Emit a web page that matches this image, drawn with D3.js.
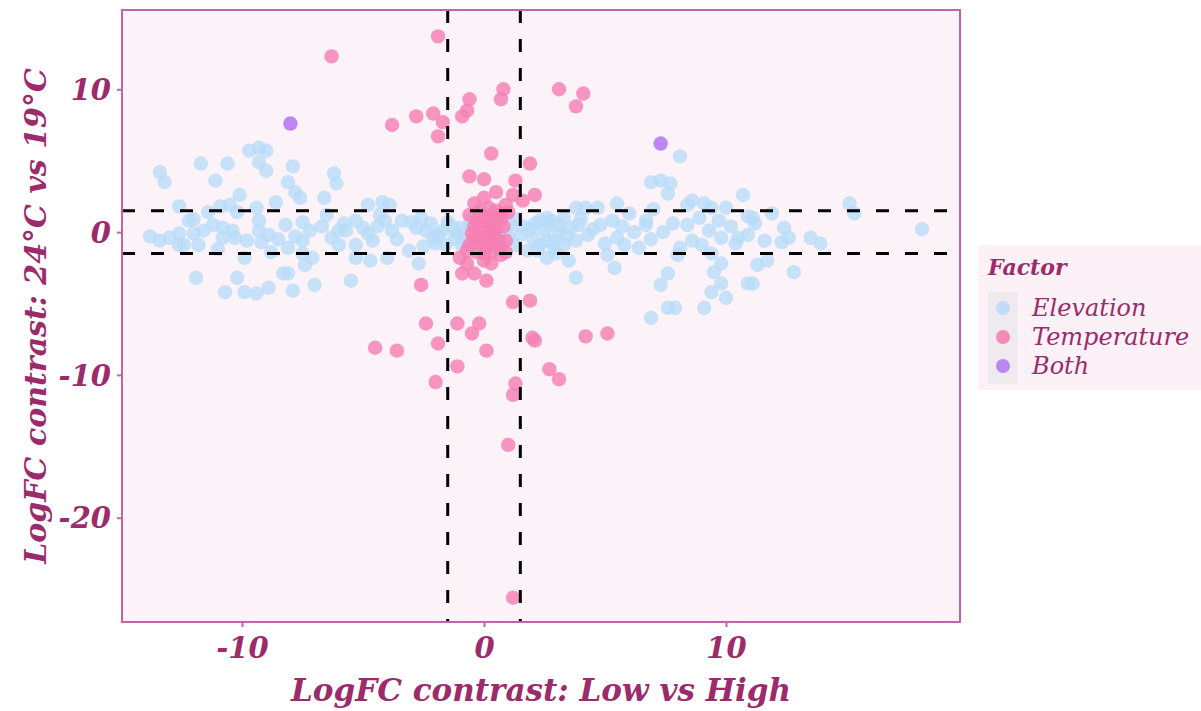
<!DOCTYPE html>
<html>
<head>
<meta charset="utf-8">
<script src="https://cdn.jsdelivr.net/npm/d3@7"></script>
<style>
  body { margin: 0; background: #ffffff; }
  svg text { font-family: "DejaVu Serif", serif; font-style: italic; fill: #9c2b6c; }
</style>
</head>
<body>
<svg id="chart" width="1201" height="711"></svg>
<script>
// Elevation (light blue) points: [logFC low vs high, logFC 24 vs 19]
const elevation = [
  [-9.7,5.7],[-9.3,5.9],[-9.0,5.7],[-13.4,4.2],[-13.2,3.5],[-11.7,4.8],[-10.6,4.8],[-9.3,4.9],[-9.0,4.3],
  [-11.1,3.6],[-7.9,4.6],[-8.1,3.5],[-7.8,2.8],[-7.6,2.4],[-6.2,4.1],[-6.1,3.4],[-10.1,2.6],[-6.6,2.4],
  [-12.6,1.8],[-12.2,0.8],[-10.9,1.8],[-10.5,1.9],[-10.2,1.4],[-8.6,2.1],[-9.4,1.7],[-9.3,0.8],[-11.4,1.4],
  [-13.0,-0.4],[-12.6,-0.1],[-12.0,-0.1],[-11.6,0.1],[-10.8,0.3],[-10.4,0.1],[-10.3,-0.4],[-10.8,-0.4],
  [-11.8,-0.9],[-12.4,-0.9],[-12.6,-0.9],[-9.3,0.1],[-8.9,-0.2],[-9.2,-0.7],[-8.8,-1.4],[-7.5,0.7],
  [-7.2,0.1],[-6.7,0.4],[-6.3,-0.4],[-7.5,-0.6],[-8.1,-1.1],[-7.5,-1.5],[-9.9,-1.8],[-7.1,-1.8],[-7.4,-2.3],
  [-11.9,-3.2],[-10.2,-3.2],[-8.3,-2.9],[-8.1,-2.9],[-10.7,-4.2],[-9.9,-4.2],[-9.4,-4.3],[-8.9,-3.9],
  [-7.9,-4.1],[-7.0,-3.7],[-13.8,-0.3],[-13.4,-0.6],
  [-4.8,1.9],[-4.2,2.1],[-3.9,1.9],[-6.0,0.1],[-5.7,0.1],[-5.3,0.8],[-5.0,0.3],[-4.8,-0.1],[-4.4,0.4],
  [-4.1,0.8],[-3.8,0.1],[-3.4,0.8],[-3.0,0.7],[-2.6,1.0],[-4.6,-0.6],[-5.3,-0.9],[-6.0,-0.9],[-5.3,-1.8],
  [-4.7,-2.0],[-4.0,-1.8],[-3.1,-1.3],[-2.7,-2.2],[-5.5,-3.4],[-2.1,-0.4],[-1.7,0.1],[-1.3,0.4],[-1.1,-0.1],
  [-2.0,-0.8],[1.0,-0.4],[1.6,0.4],[2.0,-0.4],[2.1,0.6],[-2.4,0.1],[-1.6,-0.9],[-0.9,0.3],[-0.8,-0.6],
  [1.1,0.5],[1.3,-0.9],[1.8,-1.3],[2.5,0.1],[2.9,-0.6],[3.1,0.5],[2.6,1.0],[3.3,-0.9],[2.3,-0.9],[-0.6,0.5],[0.9,0.1],
  [-2.8,0.3],[-2.2,0.6],[-1.9,-0.2],[-1.5,0.7],[-1.2,-0.5],[-0.9,-0.9],[-0.5,0.9],[-0.3,-0.3],[0.3,0.6],
  [0.6,-0.3],[1.3,0.9],[1.5,-0.2],[1.9,0.2],[2.2,-1.3],[2.8,0.8],[3.4,-0.3],[4.0,0.9],[4.5,0.2],[3.0,-1.5],
  [-3.6,-0.5],[-2.5,-1.0],[-4.3,1.2],[-5.8,0.6],[-6.5,1.2],[-8.2,0.5],[-8.5,-0.5],[-9.8,-0.6],[-11.2,0.5],
  [-12.0,0.9],[-11.0,-1.2],[-7.8,-0.3],
  [8.1,5.3],[6.9,3.5],[7.3,3.6],[7.7,3.4],[7.6,2.7],[10.7,2.6],[3.8,1.7],[4.2,1.7],[4.7,1.7],[5.5,2.0],
  [6.0,1.3],[6.7,0.8],[6.7,0.5],[8.4,1.9],[8.6,2.2],[9.1,2.0],[9.4,1.7],[10.0,1.7],[10.9,1.1],
  [2.3,0.8],[2.7,0.5],[3.1,0.0],[3.6,0.3],[3.8,-0.6],[2.6,-0.6],[3.3,1.0],[3.9,0.5],[2.9,-1.1],
  [4.8,0.5],[5.3,0.8],[5.7,0.4],[4.3,-0.2],[5.5,-0.4],[5.8,-0.9],[6.4,-1.1],[5.1,-1.6],[7.4,0.0],
  [8.1,-1.1],[8.0,-1.6],[8.4,0.5],[8.6,-0.6],[9.0,-0.9],[9.3,0.1],[9.8,-0.4],[10.2,0.4],[10.4,-0.8],
  [10.5,-0.4],[9.4,-1.5],[9.8,-2.2],[9.5,-2.8],[3.5,-2.0],[2.6,-1.8],[3.8,-3.2],[5.4,-2.5],[7.6,-2.9],
  [7.3,-3.7],[9.8,-3.6],[9.4,-4.2],[10.0,-4.6],[10.9,-3.6],[7.6,-5.3],[7.9,-5.3],[9.1,-5.3],[6.9,-6.0],
  [6.2,0.0],[6.9,-0.5],[7.8,0.6],[8.9,1.0],[9.7,0.8],[10.9,-0.2],[11.6,-0.6],[7.0,1.6],[5.0,-0.8],
  [11.1,1.0],[11.2,0.6],[11.9,1.3],[12.4,0.3],[12.6,-0.4],[12.3,-0.7],[13.5,-0.4],[13.9,-0.8],
  [15.1,2.0],[15.3,1.3],[18.1,0.2],[11.3,-2.3],[11.7,-2.0],[12.8,-2.8],[11.1,-3.6]
];

// Temperature (pink) points
const temperature = [
  [-1.9,13.7],[-6.3,12.3],[-3.8,7.5],[-2.8,8.1],[-2.1,8.3],[-1.7,7.7],[-1.9,6.7],[-0.6,9.3],[-0.7,8.5],
  [-0.9,8.1],[0.8,10.0],[0.7,9.3],[3.1,10.0],[4.1,9.7],[3.8,8.8],[0.3,5.5],[1.9,4.8],[-0.6,3.9],[0.0,3.7],
  [1.3,3.6],[2.1,2.6],[0.5,2.8],[0.0,2.4],[-0.4,2.0],[1.2,2.6],[1.6,2.2],[0.9,1.9],
  [-0.2,1.5],[0.2,1.7],[0.5,1.5],[0.0,1.1],[0.3,1.2],[0.7,1.3],[-0.3,0.8],[0.1,0.7],[0.4,0.8],[0.7,0.9],
  [-0.6,1.2],[1.0,1.4],[-0.1,0.4],[0.2,0.3],[-0.4,0.4],[0.5,0.2],[0.8,0.4],
  [-0.4,-0.4],[-0.1,-0.4],[0.2,-0.4],[0.6,-0.6],[-0.6,-0.9],[-0.2,-0.8],[0.1,-1.0],[0.4,-0.9],[0.7,-1.1],
  [-0.3,-1.4],[0.0,-1.5],[0.3,-1.4],[0.7,-1.6],[0.1,-0.2],[0.4,-0.2],[-0.5,-0.1],[0.9,-0.6],[-0.7,-1.3],[0.9,-1.4],
  [-1.0,-1.8],[-0.7,-2.2],[0.0,-2.0],[0.3,-2.2],[-0.9,-2.9],[-0.4,-2.9],[0.1,-3.4],[-2.6,-3.7],
  [1.2,-4.9],[1.9,-4.8],[-2.4,-6.4],[-1.1,-6.4],[-0.2,-6.4],[-0.5,-7.1],[-1.9,-7.8],[0.1,-8.3],
  [-4.5,-8.1],[-3.6,-8.3],[2.0,-7.4],[2.1,-7.6],[-1.1,-9.4],[-2.0,-10.5],[1.3,-10.6],[1.2,-11.4],
  [2.7,-9.6],[3.1,-10.3],[4.2,-7.3],[5.1,-7.1],[1.0,-14.9],[1.2,-25.6]
];

// Both (purple)
const both = [[-8.0,7.6],[7.3,6.2]];

const factors = ["Elevation", "Temperature", "Both"];
const factorColors = ["#b7dbf9", "#f57fb2", "#b57bef"];
const cutoffs = [-1.5, 1.5];
const xTicks = [-10, 0, 10];
const yTicks = [10, 0, -10, -20];

const svg = d3.select("#chart");
const margin = { left: 122, top: 10, right: 241, bottom: 89 };
const W = 1201, H = 711;

const x = d3.scaleLinear().domain([-14.96, 19.67]).range([margin.left, W - margin.right]);
const y = d3.scaleLinear().domain([-27.3, 15.55]).range([H - margin.bottom, margin.top]);

// panel
svg.append("rect")
    .attr("x", margin.left).attr("y", margin.top)
    .attr("width", W - margin.right - margin.left)
    .attr("height", H - margin.bottom - margin.top)
    .attr("fill", "#fcf3f8");

const color = d3.scaleOrdinal().domain(factors).range(factorColors);

const g = svg.append("g");
[[elevation, "Elevation", 0.78], [temperature, "Temperature", 0.82], [both, "Both", 0.9]].forEach(([pts, f, op]) => {
    g.selectAll(null)
        .data(pts)
        .enter().append("circle")
        .attr("cx", d => x(d[0]))
        .attr("cy", d => y(d[1]))
        .attr("r", 7.2)
        .attr("fill", color(f))
        .attr("fill-opacity", op);
});

// cutoff lines
cutoffs.forEach(c => {
    svg.append("line")
        .attr("x1", x(c)).attr("x2", x(c))
        .attr("y1", margin.top).attr("y2", H - margin.bottom)
        .attr("stroke", "#000").attr("stroke-width", 3).attr("stroke-dasharray", "13,16");
    svg.append("line")
        .attr("y1", y(c)).attr("y2", y(c))
        .attr("x1", margin.left).attr("x2", W - margin.right)
        .attr("stroke", "#000").attr("stroke-width", 3).attr("stroke-dasharray", "13,16");
});

// panel border
svg.append("rect")
    .attr("x", margin.left).attr("y", margin.top)
    .attr("width", W - margin.right - margin.left)
    .attr("height", H - margin.bottom - margin.top)
    .attr("fill", "none").attr("stroke", "#c862a6").attr("stroke-width", 2);

// axes
const xAxis = svg.append("g")
    .attr("transform", `translate(0,${H - margin.bottom})`)
    .call(d3.axisBottom(x).tickValues(xTicks).tickSize(5).tickPadding(6).tickFormat(d => String(d)));
const yAxis = svg.append("g")
    .attr("transform", `translate(${margin.left},0)`)
    .call(d3.axisLeft(y).tickValues(yTicks).tickSize(5).tickPadding(6).tickFormat(d => String(d)));
[xAxis, yAxis].forEach(a => {
    a.select(".domain").remove();
    a.selectAll(".tick line").attr("stroke", "#c862a6").attr("stroke-width", 2);
    a.selectAll(".tick text")
        .attr("font-family", "DejaVu Sans")
        .attr("font-size", 29).attr("font-weight", "bold").style("font-style", "italic")
        .attr("fill", "#9c2b6c");
});
xAxis.selectAll(".tick text").attr("dy", "0.85em");
yAxis.selectAll(".tick text").attr("dy", "0.35em");

// axis titles
svg.append("text")
    .attr("x", (margin.left + W - margin.right) / 2).attr("y", 701)
    .attr("text-anchor", "middle").attr("font-size", 31).attr("font-weight", 600)
    .text("LogFC contrast: Low vs High");
svg.append("text")
    .attr("transform", `translate(46,${(margin.top + H - margin.bottom) / 2}) rotate(-90)`)
    .attr("text-anchor", "middle").attr("font-size", 30).attr("font-weight", 600)
    .text("LogFC contrast: 24°C vs 19°C");

// legend
const lg = svg.append("g").attr("transform", "translate(978,245)");
lg.append("rect").attr("width", 223).attr("height", 145).attr("fill", "#fbf1f6");
lg.append("text").attr("x", 10).attr("y", 30).attr("font-size", 22).attr("font-weight", "bold").text("Factor");
lg.append("rect").attr("x", 10).attr("y", 47).attr("width", 30).attr("height", 92).attr("fill", "#efeaed");
factors.forEach((f, i) => {
    lg.append("circle").attr("cx", 25).attr("cy", 63 + i * 29).attr("r", 7)
        .attr("fill", color(f)).attr("fill-opacity", 0.9);
    lg.append("text").attr("x", 54).attr("y", 63 + i * 29).attr("dy", "0.35em")
        .attr("font-size", 24).text(f);
});
</script>
</body>
</html>
